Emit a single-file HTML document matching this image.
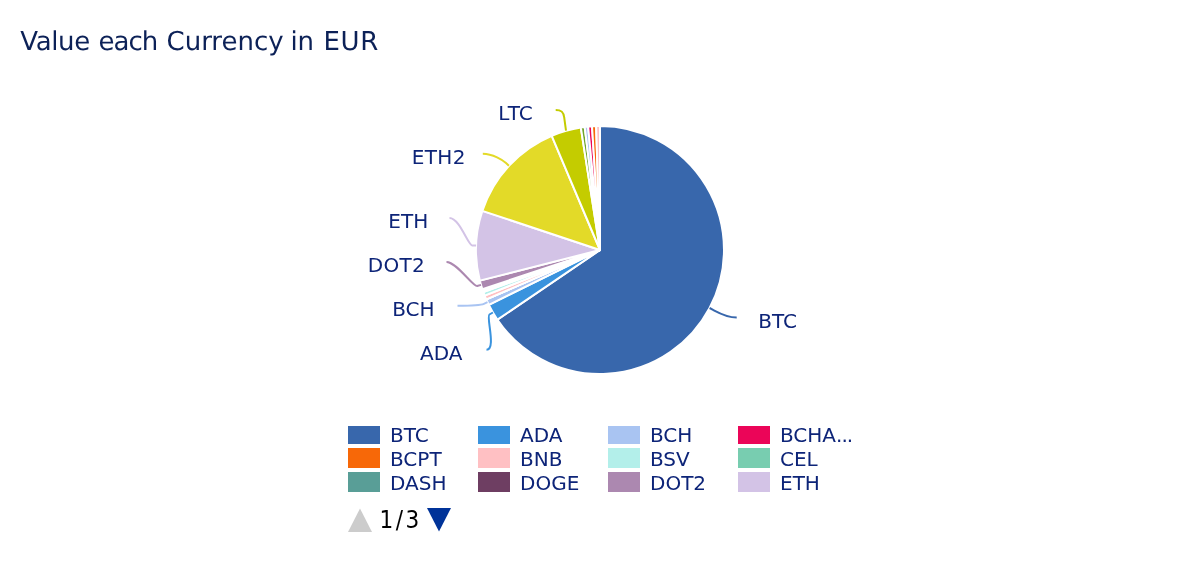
<!DOCTYPE html>
<html><head><meta charset="utf-8"><style>
html,body{margin:0;padding:0;background:#fff;width:1200px;height:580px;overflow:hidden}
svg{position:absolute;left:0;top:0;display:block;will-change:transform}
text{font-family:"DejaVu Sans","Liberation Sans",sans-serif}
</style></head><body>
<svg width="1200" height="580" viewBox="0 0 1200 580">
<rect x="0" y="0" width="1200" height="580" fill="#ffffff"/>
<text y="49.8" style="font-size:26px;fill:#0c2157;text-rendering:geometricPrecision"><tspan x="20.2" style="letter-spacing:-0.33px">Value</tspan> <tspan x="98.6" style="letter-spacing:-1px">each</tspan> <tspan x="166.5">Currency</tspan> <tspan x="290.4">in</tspan> <tspan x="323.4" style="letter-spacing:0.65px">EUR</tspan></text>
<g>
<path d="M 600.00 250.00 L 600.00 126.00 A 124.0 124.0 0 1 1 497.44 319.70 Z" fill="#3867ac" stroke="#ffffff" stroke-width="2" stroke-linejoin="round"/>
<path d="M 600.00 250.00 L 497.44 319.70 A 124.0 124.0 0 0 1 488.84 304.94 Z" fill="#3a93de" stroke="#ffffff" stroke-width="2" stroke-linejoin="round"/>
<path d="M 600.00 250.00 L 488.84 304.94 A 124.0 124.0 0 0 1 486.28 299.44 Z" fill="#a9c4f2" stroke="#ffffff" stroke-width="2" stroke-linejoin="round"/>
<path d="M 600.00 250.00 L 486.28 299.44 A 124.0 124.0 0 0 1 486.28 299.44 Z" fill="#eb0558" stroke="#ffffff" stroke-width="2" stroke-linejoin="round"/>
<path d="M 600.00 250.00 L 486.28 299.44 A 124.0 124.0 0 0 1 486.28 299.44 Z" fill="#f76808" stroke="#ffffff" stroke-width="2" stroke-linejoin="round"/>
<path d="M 600.00 250.00 L 486.28 299.44 A 124.0 124.0 0 0 1 484.71 295.65 Z" fill="#ffc0c3" stroke="#ffffff" stroke-width="2" stroke-linejoin="round"/>
<path d="M 600.00 250.00 L 484.71 295.65 A 124.0 124.0 0 0 1 483.33 292.00 Z" fill="#b3efea" stroke="#ffffff" stroke-width="2" stroke-linejoin="round"/>
<path d="M 600.00 250.00 L 483.33 292.00 A 124.0 124.0 0 0 1 482.97 290.98 Z" fill="#78cdb0" stroke="#ffffff" stroke-width="2" stroke-linejoin="round"/>
<path d="M 600.00 250.00 L 482.97 290.98 A 124.0 124.0 0 0 1 482.62 289.96 Z" fill="#599e97" stroke="#ffffff" stroke-width="2" stroke-linejoin="round"/>
<path d="M 600.00 250.00 L 482.62 289.96 A 124.0 124.0 0 0 1 482.34 289.14 Z" fill="#6e3e62" stroke="#ffffff" stroke-width="2" stroke-linejoin="round"/>
<path d="M 600.00 250.00 L 482.34 289.14 A 124.0 124.0 0 0 1 479.84 280.63 Z" fill="#ac88b0" stroke="#ffffff" stroke-width="2" stroke-linejoin="round"/>
<path d="M 600.00 250.00 L 479.84 280.63 A 124.0 124.0 0 0 1 482.34 210.86 Z" fill="#d3c3e6" stroke="#ffffff" stroke-width="2" stroke-linejoin="round"/>
<path d="M 600.00 250.00 L 482.34 210.86 A 124.0 124.0 0 0 1 551.75 135.77 Z" fill="#e3da28" stroke="#ffffff" stroke-width="2" stroke-linejoin="round"/>
<path d="M 600.00 250.00 L 551.75 135.77 A 124.0 124.0 0 0 1 580.82 127.49 Z" fill="#c4cc00" stroke="#ffffff" stroke-width="2" stroke-linejoin="round"/>
<path d="M 600.00 250.00 L 580.82 127.49 A 124.0 124.0 0 0 1 584.67 126.95 Z" fill="#70a52c" stroke="#ffffff" stroke-width="2" stroke-linejoin="round"/>
<path d="M 600.00 250.00 L 584.67 126.95 A 124.0 124.0 0 0 1 588.12 126.57 Z" fill="#a9c4f2" stroke="#ffffff" stroke-width="2" stroke-linejoin="round"/>
<path d="M 600.00 250.00 L 588.12 126.57 A 124.0 124.0 0 0 1 592.00 126.26 Z" fill="#eb0558" stroke="#ffffff" stroke-width="2" stroke-linejoin="round"/>
<path d="M 600.00 250.00 L 592.00 126.26 A 124.0 124.0 0 0 1 596.11 126.06 Z" fill="#f76808" stroke="#ffffff" stroke-width="2" stroke-linejoin="round"/>
<path d="M 600.00 250.00 L 596.11 126.06 A 124.0 124.0 0 0 1 600.00 126.00 Z" fill="#ffc0c3" stroke="#ffffff" stroke-width="2" stroke-linejoin="round"/>
</g>
<g>
<path d="M 736.7 317.5 C 726.7 317.5 716.7 311.8 713.1 309.9 L 709.6 308.0" fill="none" stroke="#3867ac" stroke-width="2"/>
<path d="M 486.5 349.8 C 496.5 349.8 486.0 316.5 489.4 314.5 L 492.9 312.5" fill="none" stroke="#3a93de" stroke-width="2"/>
<path d="M 457.5 305.8 C 467.5 305.8 480.3 305.6 483.9 303.9 L 487.5 302.2" fill="none" stroke="#a9c4f2" stroke-width="2"/>
<path d="M 446.5 261.9 C 456.5 261.9 473.3 287.2 477.2 286.0 L 481.0 284.9" fill="none" stroke="#ac88b0" stroke-width="2"/>
<path d="M 449.5 218.1 C 459.5 218.1 468.1 245.3 472.1 245.4 L 476.1 245.6" fill="none" stroke="#d3c3e6" stroke-width="2"/>
<path d="M 482.8 153.8 C 492.8 153.8 503.1 160.4 506.0 163.1 L 508.9 165.8" fill="none" stroke="#e3da28" stroke-width="2"/>
<path d="M 555.7 110.0 C 560.7 110.0 563.7 111.5 564.2 117.5 L 566.0 130.7" fill="none" stroke="#c4cc00" stroke-width="2"/>
</g>
<g style="font-size:20px;fill:#0d2478">
<text x="758.30" y="327.75" text-anchor="start">BTC</text>
<text x="462.50" y="359.9" text-anchor="end">ADA</text>
<text x="434.50" y="316" text-anchor="end">BCH</text>
<text x="425.15" y="272" text-anchor="end" style="letter-spacing:0.35px">DOT2</text>
<text x="428.20" y="227.8" text-anchor="end">ETH</text>
<text x="465.90" y="164" text-anchor="end" style="letter-spacing:0.4px">ETH2</text>
<text x="532.70" y="120" text-anchor="end">L<tspan dx="1.1">TC</tspan></text>
</g>
<g style="font-size:20px;fill:#0d2478">
<rect x="348" y="426" width="32" height="18" fill="#3867ac"/>
<text x="390" y="441.75">BTC</text>
<rect x="478" y="426" width="32" height="18" fill="#3a93de"/>
<text x="520" y="441.75">ADA</text>
<rect x="608" y="426" width="32" height="18" fill="#a9c4f2"/>
<text x="650" y="441.75">BCH</text>
<rect x="738" y="426" width="32" height="18" fill="#eb0558"/>
<text x="780" y="441.75">BCHA<tspan style="letter-spacing:-1px">...</tspan></text>
<rect x="348" y="448" width="32" height="20" fill="#f76808"/>
<text x="390" y="465.7">BCPT</text>
<rect x="478" y="448" width="32" height="20" fill="#ffc0c3"/>
<text x="520" y="465.7">BNB</text>
<rect x="608" y="448" width="32" height="20" fill="#b3efea"/>
<text x="650" y="465.7">BSV</text>
<rect x="738" y="448" width="32" height="20" fill="#78cdb0"/>
<text x="780" y="465.7">CEL</text>
<rect x="348" y="472" width="32" height="20" fill="#599e97"/>
<text x="390" y="489.6">DASH</text>
<rect x="478" y="472" width="32" height="20" fill="#6e3e62"/>
<text x="520" y="489.6">DOGE</text>
<rect x="608" y="472" width="32" height="20" fill="#ac88b0"/>
<text x="650" y="489.6">DOT2</text>
<rect x="738" y="472" width="32" height="20" fill="#d3c3e6"/>
<text x="780" y="489.6">ETH</text>
</g>
<path d="M 348 532 L 372 532 L 360 508.5 Z" fill="#cccccc"/>
<text x="379.5" y="528" style="font-family:'DejaVu Sans Condensed','DejaVu Sans',sans-serif;font-stretch:condensed;font-size:24px;letter-spacing:2.5px;fill:#000000">1/3</text>
<path d="M 427 508 L 451 508 L 439 531.5 Z" fill="#003399"/>
</svg>
</body></html>
